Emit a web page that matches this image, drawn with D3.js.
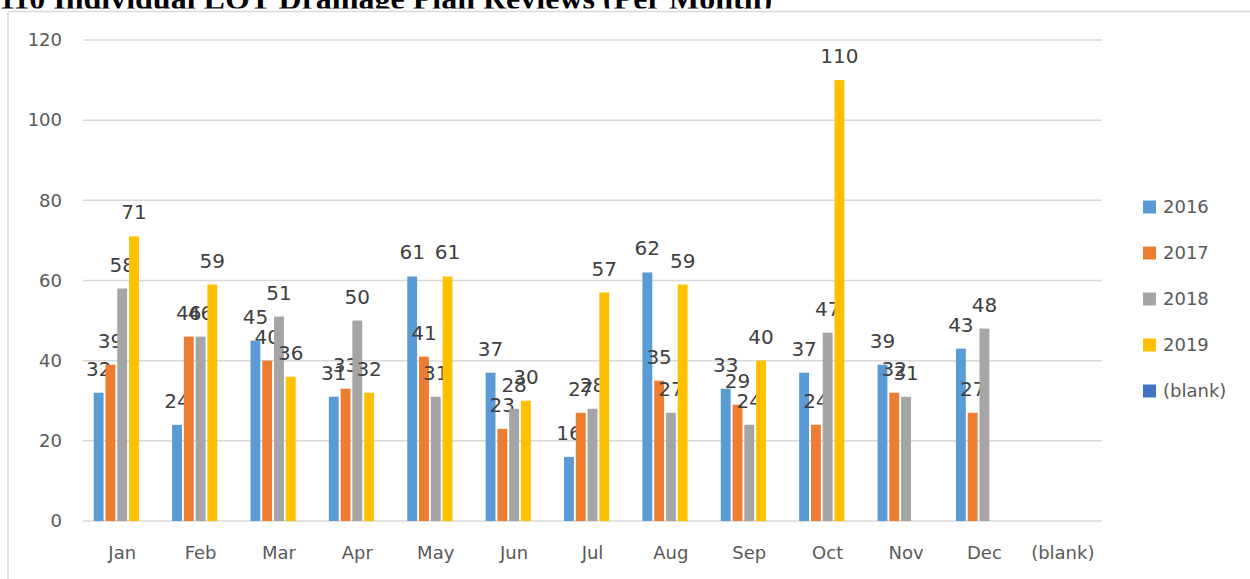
<!DOCTYPE html>
<html>
<head>
<meta charset="utf-8">
<script src="https://cdnjs.cloudflare.com/ajax/libs/d3/7.8.5/d3.min.js"></script>
<style>
body { margin: 0; background: #fff; }
svg { display: block; }
</style>
</head>
<body>
<svg></svg>
<script>
var screen = {width: 1250, height: 579};
var margins = {top: 40, right: 148, bottom: 58, left: 83};

var months = ["Jan", "Feb", "Mar", "Apr", "May", "Jun", "Jul", "Aug", "Sep", "Oct", "Nov", "Dec", "(blank)"];
var series = ["2016", "2017", "2018", "2019", "(blank)"];
var v2016 = [32, 24, 45, 31, 61, 37, 16, 62, 33, 37, 39, 43, null];
var v2017 = [39, 46, 40, 33, 41, 23, 27, 35, 29, 24, 32, 27, null];
var v2018 = [58, 46, 51, 50, 31, 28, 28, 27, 24, 47, 31, 48, null];
var v2019 = [71, 59, 36, 32, 61, 30, 57, 59, 40, 110, null, null, null];
var vBlank = [null, null, null, null, null, null, null, null, null, null, null, null, null];
var yTicks = [0, 20, 40, 60, 80, 100, 120];
var colors = ["#5b9bd5", "#ed7d31", "#a5a5a5", "#ffc000", "#4472c4"];
var title = "110 Individual LOT Drainage Plan Reviews (Per Month)";

var allValues = [v2016, v2017, v2018, v2019, vBlank];

var svg = d3.select("svg")
    .attr("width", screen.width)
    .attr("height", screen.height)

// title, mostly hidden behind the chart frame like in the original
svg.append("text")
    .attr("x", -1)
    .attr("y", 9)
    .style("font-family", "'Liberation Serif', 'Times New Roman', serif")
    .style("font-weight", "bold")
    .style("font-size", "32px")
    .attr("fill", "#000")
    .text(title)

svg.append("rect")
    .attr("x", 0)
    .attr("y", 8.5)
    .attr("width", screen.width)
    .attr("height", screen.height)
    .attr("fill", "#fff")

// chart frame (only top and left edges are in view)
svg.append("line")
    .attr("x1", 8).attr("x2", screen.width)
    .attr("y1", 11.5).attr("y2", 11.5)
    .attr("stroke", "#d9d9d9").attr("stroke-width", 1.5)
svg.append("line")
    .attr("x1", 8).attr("x2", 8)
    .attr("y1", 11.5).attr("y2", screen.height)
    .attr("stroke", "#d9d9d9").attr("stroke-width", 1.5)

var width = screen.width - margins.left - margins.right;
var height = 521 - margins.top;

var xScale = d3.scaleBand()
    .domain(months)
    .range([0, width])
    .paddingInner(0.273)
    .paddingOuter(0.1365)

var xInner = d3.scaleBand()
    .domain(series)
    .range([0, xScale.bandwidth()])
    .paddingInner(0.16)

var yScale = d3.scaleLinear()
    .domain([0, 120])
    .range([height, 0])

var graph = svg.append("g")
    .attr("id", "graph")
    .attr("transform", "translate(" + margins.left + "," + margins.top + ")")

// gridlines
graph.append("g")
    .selectAll("line")
    .data(yTicks)
    .enter()
    .append("line")
    .attr("x1", 0)
    .attr("x2", width)
    .attr("y1", function(d) { return yScale(d) })
    .attr("y2", function(d) { return yScale(d) })
    .attr("stroke", "#d9d9d9")
    .attr("stroke-width", 1.5)

var yAxis = d3.axisLeft(yScale).tickValues(yTicks).tickSize(0).tickPadding(21)
var xAxis = d3.axisBottom(xScale).tickSize(0).tickPadding(25)

var yG = graph.append("g").attr("id", "yAxis").call(yAxis)
var xG = graph.append("g").attr("id", "xAxis")
    .attr("transform", "translate(0," + height + ")")
    .call(xAxis)

d3.selectAll("#yAxis .domain, #xAxis .domain").remove()
d3.selectAll("#yAxis text, #xAxis text")
    .style("font-family", "'DejaVu Sans', sans-serif")
    .style("font-size", "18px")
    .attr("fill", "#595959")

// bars
series.forEach(function(s, i) {
    var rows = months.map(function(m, j) { return {month: m, value: allValues[i][j]} })
        .filter(function(d) { return d.value != null })

    var g = graph.append("g").attr("id", "s" + i)

    g.selectAll("rect")
        .data(rows)
        .enter()
        .append("rect")
        .attr("x", function(d) { return xScale(d.month) + xInner(s) })
        .attr("y", function(d) { return yScale(d.value) })
        .attr("width", xInner.bandwidth())
        .attr("height", function(d) { return height - yScale(d.value) })
        .attr("fill", colors[i])

    g.selectAll("text")
        .data(rows)
        .enter()
        .append("text")
        .attr("x", function(d) { return xScale(d.month) + xInner(s) + xInner.bandwidth() / 2 })
        .attr("y", function(d) { return yScale(d.value) - 17 })
        .attr("text-anchor", "middle")
        .style("font-family", "'DejaVu Sans', sans-serif")
        .style("font-size", "20px")
        .attr("fill", "#404040")
        .text(function(d) { return d.value })
})

// legend
var legend = svg.append("g").attr("id", "legend")
    .attr("transform", "translate(1143,207)")

var gs = legend.selectAll("g")
    .data(series)
    .enter()
    .append("g")
    .attr("transform", function(d, i) { return "translate(0," + (i * 46) + ")" })

gs.append("rect")
    .attr("x", 0)
    .attr("y", -6.5)
    .attr("width", 13)
    .attr("height", 13)
    .attr("fill", function(d, i) { return colors[i] })

gs.append("text")
    .attr("x", 20)
    .attr("y", 0)
    .attr("dy", "0.35em")
    .style("font-family", "'DejaVu Sans', sans-serif")
    .style("font-size", "18px")
    .attr("fill", "#595959")
    .text(function(d) { return d })
</script>
</body>
</html>
